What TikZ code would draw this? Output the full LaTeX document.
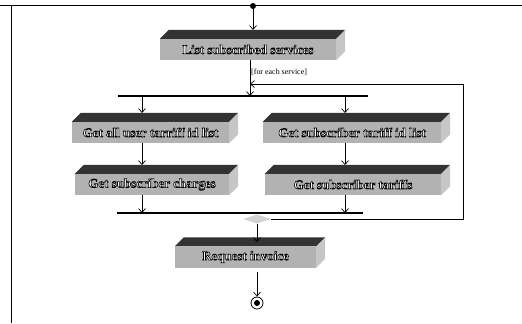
\documentclass[tikz,border=0pt]{standalone}
\usepackage{fontspec}
\setmainfont{Liberation Serif}
\usetikzlibrary{arrows.meta,shapes.geometric,patterns}
\tikzset{
  frontface/.style={fill=gray!60},
  topface/.style={fill=black!80},
  sideface/.style={fill=gray!45},
  boxfont/.style={font=\bfseries\fontsize{13}{15}\selectfont,inner sep=0pt},
  actbox/.style={rectangle,inner sep=0pt,frontface},
  flow/.style={draw=black,line width=0.7pt,-{Straight Barb[length=4pt,width=7pt]}},
  plain/.style={draw=black,line width=0.7pt},
  bar/.style={fill=black,inner sep=0pt,minimum height=2pt},
  frame/.style={draw=black,line width=0.8pt},
}
\newcommand{\prismfaces}[1]{%
  \fill[topface] (#1.north west) -- ([shift={(9bp,9bp)}]#1.north west) -- ([shift={(9bp,9bp)}]#1.north east) -- (#1.north east) -- cycle;
  \fill[sideface] (#1.north east) -- ([shift={(9bp,9bp)}]#1.north east) -- ([shift={(9bp,9bp)}]#1.south east) -- (#1.south east) -- cycle;
}
\newcommand{\outl}[2]{%
  \node[boxfont,text=white] at (#1) {\special{pdf:literal direct 2 Tr 0.6 w 0 G}#2\special{pdf:literal direct 0 Tr}};
}
\begin{document}
\begin{tikzpicture}[x=1bp,y=-1bp]
\useasboundingbox (0,0) rectangle (522,323);
\fill[white] (0,0) rectangle (522,323);
% frame
\coordinate (ftl) at (0,5);
\coordinate (ftr) at (522,5);
\coordinate (fcl) at (11,5);
\coordinate (fbl) at (11,323);
\draw[frame] (ftl) -- (ftr);
\draw[frame] (fcl) -- (fbl);
% start
\node[circle,fill=black,inner sep=0pt,minimum size=6bp] (start) at (253,6) {};
% boxes (front faces)
\node[actbox,minimum width=176bp,minimum height=21bp] (list) at (248,49.5) {};
\node[actbox,minimum width=157bp,minimum height=21bp] (l1) at (150.5,132.5) {};
\node[actbox,minimum width=154bp,minimum height=21bp] (l2) at (152,184.5) {};
\node[actbox,minimum width=178bp,minimum height=21bp] (r1) at (352,132.5) {};
\node[actbox,minimum width=176bp,minimum height=21bp] (r2) at (353,184.5) {};
\node[actbox,minimum width=141bp,minimum height=21bp] (req) at (245.5,257) {};
\prismfaces{list}\prismfaces{l1}\prismfaces{l2}\prismfaces{r1}\prismfaces{r2}\prismfaces{req}
\outl{list}{List subscribed services}
\outl{l1}{Get all user tarriff id list}
\outl{l2}{Get subscriber charges}
\outl{r1}{Get subscriber tariff id list}
\outl{r2}{Get subscriber tariffs}
\outl{req}{Request invoice}
% bars
\node[bar,minimum width=250bp] (fork) at (243,96) {};
\node[bar,minimum width=246bp] (join) at (240,213) {};
% decision
\node[diamond,fill=gray!35,inner sep=0pt,minimum width=28bp,minimum height=9bp] (dec) at (257,219) {};
% final
\node[circle,draw=black,line width=0.8pt,fill=white,minimum size=12bp,inner sep=0pt] (final) at (257,303) {};
\node[circle,fill=black,minimum size=6bp,inner sep=0pt] at (final) {};
% guard
\node[font=\fontsize{8}{9}\selectfont,anchor=west,inner sep=0pt] (guard) at (251,72) {[for each service]};
% coordinates
\coordinate (listtop) at (253,30);
\coordinate (merge) at (250,84);
\coordinate (loopA) at (463,219);
\coordinate (loopB) at (463,84);
% flows
\draw[flow] (start) -- (listtop);
\draw[flow] (250,60) -- (250,96);
\draw[flow] (142,96) -- (142,113);
\draw[flow] (345,96) -- (345,113);
\draw[flow] (142,143) -- (142,165);
\draw[flow] (345,143) -- (345,165);
\draw[flow] (142,195) -- (142,213);
\draw[flow] (345,195) -- (345,213);
\draw[plain] (257,213) -- (dec.north);
\draw[flow] (dec.south) -- (257,242);
\draw[flow] (257,272) -- (final.north);
\draw[plain] (dec.east) -- (loopA) -- (loopB);
\draw[flow] (loopB) -- (merge);
\end{tikzpicture}
\end{document}
